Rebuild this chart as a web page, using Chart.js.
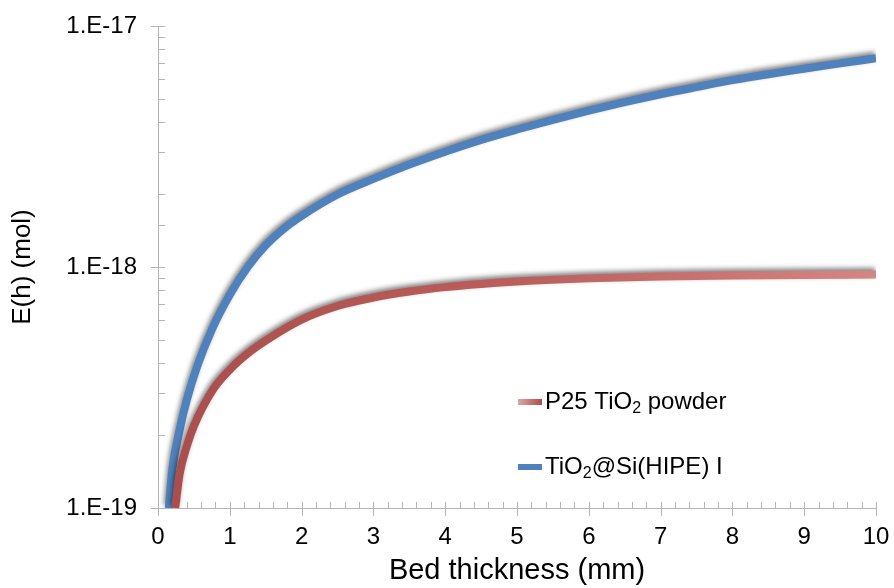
<!DOCTYPE html>
<html>
<head>
<meta charset="utf-8">
<script src="https://cdn.jsdelivr.net/npm/chart.js@4.4.1/dist/chart.umd.min.js"></script>
<style>
  html, body { margin: 0; padding: 0; background: #ffffff; }
  #wrap { width: 894px; height: 588px; }
</style>
</head>
<body>
<div id="wrap"><canvas id="c" width="894" height="588"></canvas></div>
<script>
// ---- data ----
const seriesNames = ['P25 TiO2 powder', 'TiO2@Si(HIPE) I'];

const p25Thickness = [0.24, 0.30, 0.40, 0.50, 0.75, 1.00, 1.25, 1.50, 2.00, 2.50, 3.00, 3.50, 4.00, 4.50, 5.00, 6.00, 7.00, 8.00, 9.00, 10.00];
const p25Energy    = [1.0e-19, 1.38e-19, 1.8e-19, 2.19e-19, 3.05e-19, 3.75e-19, 4.38e-19, 4.95e-19, 6.05e-19, 6.89e-19, 7.47e-19, 7.91e-19, 8.25e-19, 8.5e-19, 8.7e-19, 8.97e-19, 9.13e-19, 9.22e-19, 9.27e-19, 9.3e-19];

const hipeThickness = [0.15, 0.20, 0.30, 0.40, 0.55, 0.75, 1.00, 1.25, 1.50, 1.75, 2.00, 2.50, 3.00, 3.50, 4.00, 4.50, 5.00, 5.50, 6.00, 6.50, 7.00, 7.50, 8.00, 8.50, 9.00, 9.50, 10.00];
const hipeEnergy    = [1.0e-19, 1.45e-19, 2.1e-19, 2.8e-19, 3.9e-19, 5.5e-19, 7.67e-19, 1.0e-18, 1.23e-18, 1.44e-18, 1.63e-18, 2.0e-18, 2.32e-18, 2.66e-18, 3.01e-18, 3.37e-18, 3.72e-18, 4.08e-18, 4.45e-18, 4.83e-18, 5.21e-18, 5.58e-18, 5.96e-18, 6.31e-18, 6.65e-18, 7.0e-18, 7.35e-18];

const xTickValues = [0, 1, 2, 3, 4, 5, 6, 7, 8, 9, 10];
const yTickLabels = { '-19': '1.E-19', '-18': '1.E-18', '-17': '1.E-17' };
const xTitle = 'Bed thickness (mm)';
const yTitle = 'E(h) (mol)';

// ---- helpers ----
const FONT = "'Liberation Sans', Arial, Helvetica, sans-serif";
const AXIS_COLOR = '#b4b4b4';
const BLUE = '#4f81bd';

function zip(xs, ys) { return xs.map((x, i) => ({ x: x, y: ys[i] })); }
function isDecade(v) { const l = Math.log10(v); return Math.abs(l - Math.round(l)) < 1e-6; }

function redGradient(ctx) {
  const chart = ctx.chart;
  const a = chart.chartArea;
  if (!a) return '#c0504d';
  const g = chart.ctx.createLinearGradient(a.left, 0, a.right, 0);
  g.addColorStop(0, '#a94e4c');
  g.addColorStop(0.5, '#bb5e5c');
  g.addColorStop(1, '#d48684');
  return g;
}

// shadow under the curves
const shadowPlugin = {
  id: 'lineShadow',
  beforeDatasetDraw(chart) {
    const c = chart.ctx;
    c.save();
    c.shadowColor = 'rgba(0,0,0,0.5)';
    c.shadowBlur = 5;
    c.shadowOffsetX = -1;
    c.shadowOffsetY = -2.5;
  },
  afterDatasetDraw(chart) {
    chart.ctx.restore();
  }
};

// tick marks (major ones cross the axis, minor ones sit inside)
const tickPlugin = {
  id: 'crossTicks',
  beforeDatasetsDraw(chart) {
    const c = chart.ctx;
    const xs = chart.scales.x, ys = chart.scales.y;
    const a = chart.chartArea;
    c.save();
    c.strokeStyle = AXIS_COLOR;
    c.lineWidth = 1;
    c.beginPath();
    ys.ticks.forEach(t => {
      const p = Math.round(ys.getPixelForValue(t.value)) + 0.5;
      if (isDecade(t.value)) { c.moveTo(a.left - 7, p); c.lineTo(a.left + 7, p); }
      else { c.moveTo(a.left, p); c.lineTo(a.left + 7, p); }
    });
    xTickValues.forEach(v => {
      const p = Math.round(xs.getPixelForValue(v)) + 0.5;
      c.moveTo(p, a.bottom - 6); c.lineTo(p, a.bottom + 8);
    });
    for (let i = 0; i < xTickValues.length - 1; i++) {
      for (let k = 1; k < 5; k++) {
        const v = xTickValues[i] + k * (xTickValues[i + 1] - xTickValues[i]) / 5;
        const p = Math.round(xs.getPixelForValue(v)) + 0.5;
        c.moveTo(p, a.bottom - 6); c.lineTo(p, a.bottom);
      }
    }
    c.stroke();
    c.restore();
  }
};

// legend drawn inside the plot, with TiO2 subscript
function drawRich(c, text, x, y, size) {
  const parts = text.split(/(TiO)2/);
  let cx = x;
  for (let i = 0; i < parts.length; i++) {
    c.font = size + 'px ' + FONT;
    c.fillText(parts[i], cx, y);
    cx += c.measureText(parts[i]).width;
    if (parts[i] === 'TiO' && i % 2 === 1) {
      const s = Math.round(size * 0.66);
      c.font = s + 'px ' + FONT;
      c.fillText('2', cx, y + size * 0.28);
      cx += c.measureText('2').width;
    }
  }
}

const legendPlugin = {
  id: 'insideLegend',
  afterDraw(chart) {
    const c = chart.ctx;
    const a = chart.chartArea;
    const x0 = a.left + 360;
    const rows = [a.top + 376, a.top + 441];
    const order = [0, 1];
    c.save();
    c.textBaseline = 'middle';
    c.textAlign = 'left';
    order.forEach((di, r) => {
      const y = rows[r];
      if (di === 0) {
        const g = c.createLinearGradient(x0, 0, x0 + 24, 0);
        g.addColorStop(0, '#dba6a4');
        g.addColorStop(1, '#a94e4c');
        c.fillStyle = g;
      } else {
        c.fillStyle = BLUE;
      }
      c.fillRect(x0, y - 3, 24, 6);
      c.fillStyle = '#000';
      drawRich(c, chart.data.datasets[di].label, x0 + 27, y, 24);
    });
    c.restore();
  }
};

const cfg = {
  type: 'line',
  data: {
    datasets: [
      {
        label: seriesNames[0],
        data: zip(p25Thickness, p25Energy),
        borderColor: redGradient,
        borderWidth: 8,
        pointRadius: 0,
        cubicInterpolationMode: 'monotone',
        fill: false
      },
      {
        label: seriesNames[1],
        data: zip(hipeThickness, hipeEnergy),
        borderColor: BLUE,
        borderWidth: 8,
        pointRadius: 0,
        cubicInterpolationMode: 'monotone',
        fill: false
      }
    ]
  },
  options: {
    responsive: false,
    animation: false,
    layout: { padding: { top: 26, right: 18, left: 0, bottom: 0 } },
    plugins: { legend: { display: false }, tooltip: { enabled: false } },
    scales: {
      x: {
        type: 'linear',
        min: 0, max: 10,
        afterFit(s) { s.height = 80; s.paddingLeft = 0; s.paddingRight = 0; },
        afterBuildTicks(s) { s.ticks = xTickValues.map(v => ({ value: v })); },
        grid: { display: true, drawOnChartArea: false, drawTicks: false, color: AXIS_COLOR },
        border: { display: true, color: AXIS_COLOR, width: 1 },
        ticks: { color: '#000', font: { family: FONT, size: 24 }, padding: 15, maxRotation: 0, autoSkip: false },
        title: { display: true, text: xTitle, color: '#000', font: { family: FONT, size: 29 }, padding: { top: 0, bottom: 0 } }
      },
      y: {
        type: 'logarithmic',
        min: 1e-19, max: 1e-17,
        afterFit(s) { s.width = 158; s.paddingTop = 0; s.paddingBottom = 0; },
        grid: { display: true, drawOnChartArea: false, drawTicks: false, color: AXIS_COLOR },
        border: { display: true, color: AXIS_COLOR, width: 1 },
        ticks: {
          color: '#000', font: { family: FONT, size: 24 }, padding: 21, autoSkip: false,
          callback(v) {
            if (!isDecade(v)) return '';
            return yTickLabels[String(Math.round(Math.log10(v)))] || '';
          }
        },
        title: { display: true, text: yTitle, color: '#000', font: { family: FONT, size: 26 }, padding: { top: 7, bottom: 0 } }
      }
    }
  },
  plugins: [shadowPlugin, tickPlugin, legendPlugin]
};

new Chart(document.getElementById('c'), cfg);
</script>
</body>
</html>
